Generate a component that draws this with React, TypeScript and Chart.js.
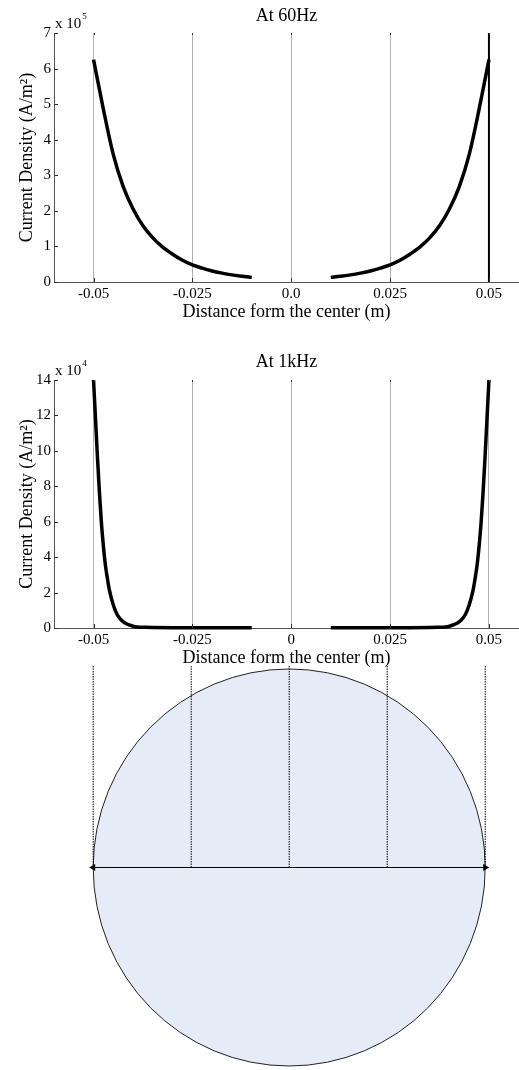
import React, { useEffect, useRef } from 'react';
import { Chart, registerables } from 'chart.js';

Chart.register(...registerables);

const FONT = "'Liberation Serif', 'Times New Roman', serif";

// ---------- axis ticks ----------
const xTickValues = [-0.05, -0.025, 0, 0.025, 0.05];
const xTickLabels60 = ['-0.05', '-0.025', '0.0', '0.025', '0.05'];
const xTickLabels1k = ['-0.05', '-0.025', '0', '0.025', '0.05'];
const yTicks60 = [0, 1, 2, 3, 4, 5, 6, 7];
const yTicks1k = [0, 2, 4, 6, 8, 10, 12, 14];

// ---------- 60 Hz current density (x 10^5 A/m^2) ----------
const x60Left = [-0.05, -0.0475, -0.045, -0.0425, -0.04, -0.0375, -0.035, -0.0325, -0.03, -0.0275, -0.025, -0.0225, -0.02, -0.0175, -0.015, -0.0125, -0.01];
const j60Left = [6.25, 4.85, 3.58, 2.68, 2.05, 1.58, 1.24, 0.98, 0.78, 0.61, 0.48, 0.39, 0.31, 0.25, 0.2, 0.16, 0.13];
const x60Right = [0.01, 0.0125, 0.015, 0.0175, 0.02, 0.0225, 0.025, 0.0275, 0.03, 0.0325, 0.035, 0.0375, 0.04, 0.0425, 0.045, 0.0475, 0.05];
const j60Right = [0.13, 0.16, 0.2, 0.25, 0.31, 0.39, 0.48, 0.61, 0.78, 0.98, 1.24, 1.58, 2.05, 2.68, 3.58, 4.85, 6.25];
const edgeLineX = [0.05, 0.05];
const edgeLineY = [0, 7];

// ---------- 1 kHz current density (x 10^4 A/m^2) ----------
const x1kLeft = [-0.05, -0.0495, -0.049, -0.0485, -0.048, -0.0475, -0.047, -0.0465, -0.046, -0.045, -0.044, -0.043, -0.042, -0.041, -0.04, -0.039, -0.037, -0.035, -0.03, -0.02, -0.01];
const j1kLeft = [14, 11.8, 9.6, 7.6, 5.9, 4.6, 3.55, 2.8, 2.15, 1.3, 0.75, 0.45, 0.28, 0.17, 0.1, 0.06, 0.04, 0.03, 0.02, 0.02, 0.02];
const x1kRight = [0.01, 0.02, 0.03, 0.035, 0.037, 0.039, 0.04, 0.041, 0.042, 0.043, 0.044, 0.045, 0.046, 0.0465, 0.047, 0.0475, 0.048, 0.0485, 0.049, 0.0495, 0.05];
const j1kRight = [0.02, 0.02, 0.02, 0.03, 0.04, 0.06, 0.1, 0.17, 0.28, 0.45, 0.75, 1.3, 2.15, 2.8, 3.55, 4.6, 5.9, 7.6, 9.6, 11.8, 14];

// ---------- conductor cross-section ----------
const conductorRadius = 0.05;
const guideX = [-0.05, -0.025, 0, 0.025, 0.05];
const guideTop = 0.05075;
const diameterX = [-0.05, 0.05];

const X_MIN = -0.06;
const X_MAX = 0.0576;
const W = 519;

const pts = (xs: number[], ys: number[]) => xs.map((x, i) => ({ x, y: ys[i] }));

function innerTicksPlugin(exp: string) {
  return {
    id: 'innerTicks',
    afterDraw(chart: any) {
      const { ctx, chartArea: a, scales } = chart;
      const xs = scales.x, ys = scales.y;
      ctx.save();
      ctx.strokeStyle = '#333';
      ctx.lineWidth = 1;
      ctx.beginPath();
      ys.ticks.forEach((t: any) => {
        const py = Math.round(ys.getPixelForValue(t.value)) + 0.5;
        ctx.moveTo(a.left, py);
        ctx.lineTo(a.left + 4, py);
      });
      xs.ticks.forEach((t: any) => {
        const px = Math.round(xs.getPixelForValue(t.value)) + 0.5;
        ctx.moveTo(px, a.bottom);
        ctx.lineTo(px, a.bottom - 4);
        ctx.moveTo(px, a.top);
        ctx.lineTo(px, a.top + 2);
      });
      ctx.stroke();
      // exponent label
      ctx.fillStyle = '#000';
      ctx.textBaseline = 'alphabetic';
      ctx.textAlign = 'left';
      ctx.font = `15px ${FONT}`;
      const base = 'x 10';
      const bx = a.left + 1;
      const by = a.top - 5;
      ctx.fillText(base, bx, by);
      const w = ctx.measureText(base).width;
      ctx.font = `9px ${FONT}`;
      ctx.fillText(exp, bx + w + 1, by - 9);
      ctx.restore();
    },
  };
}

function densityConfig(opts: {
  title: string;
  titlePad: { top: number; bottom: number };
  xLabels: string[];
  yTicks: number[];
  exp: string;
  datasets: any[];
}) {
  return {
    type: 'line',
    data: { datasets: opts.datasets },
    options: {
      responsive: false,
      animation: false,
      devicePixelRatio: 1,
      events: [],
      layout: { padding: 0 },
      plugins: {
        legend: { display: false },
        tooltip: { enabled: false },
        title: {
          display: true,
          fullSize: false,
          text: opts.title,
          color: '#000',
          font: { family: FONT, size: 18, weight: 'normal' },
          padding: opts.titlePad,
        },
      },
      scales: {
        x: {
          type: 'linear',
          min: X_MIN,
          max: X_MAX,
          afterBuildTicks: (s: any) => {
            s.ticks = xTickValues.map((v) => ({ value: v }));
          },
          afterFit: (s: any) => {
            s.height = 43;
          },
          ticks: {
            color: '#000',
            font: { family: FONT, size: 15 },
            padding: 3,
            maxRotation: 0,
            autoSkip: false,
            callback: (v: number) => {
              const i = xTickValues.findIndex((t) => Math.abs(t - v) < 1e-9);
              return i >= 0 ? opts.xLabels[i] : '';
            },
          },
          grid: { display: true, color: '#b0b0b0', lineWidth: 1, drawTicks: false },
          border: { display: true, color: '#555', width: 1 },
          title: {
            display: true,
            text: 'Distance form the center (m)',
            color: '#000',
            font: { family: FONT, size: 18 },
            padding: { top: 0, bottom: 2.2 },
          },
        },
        y: {
          type: 'linear',
          min: opts.yTicks[0],
          max: opts.yTicks[opts.yTicks.length - 1],
          afterBuildTicks: (s: any) => {
            s.ticks = opts.yTicks.map((v) => ({ value: v }));
          },
          afterFit: (s: any) => {
            s.width = 54;
          },
          ticks: {
            color: '#000',
            font: { family: FONT, size: 15 },
            padding: 3,
            autoSkip: false,
            callback: (v: number) => String(v),
          },
          grid: { display: false, drawTicks: false },
          border: { display: true, color: '#555', width: 1 },
          title: {
            display: true,
            text: 'Current Density (A/m²)',
            color: '#000',
            font: { family: FONT, size: 18 },
            padding: { top: 16.7, bottom: 0 },
          },
        },
      },
    },
    plugins: [innerTicksPlugin(opts.exp)],
  };
}

const curveStyle = {
  borderColor: '#000',
  borderWidth: 3.5,
  pointRadius: 0,
  cubicInterpolationMode: 'monotone',
  borderCapStyle: 'butt',
  borderJoinStyle: 'round',
  fill: false,
  clip: false,
};

function config60() {
  return densityConfig({
    title: 'At 60Hz',
    titlePad: { top: 5.9, bottom: 5.5 },
    xLabels: xTickLabels60,
    yTicks: yTicks60,
    exp: '5',
    datasets: [
      { ...curveStyle, data: pts(x60Left, j60Left) },
      { ...curveStyle, data: pts(x60Right, j60Right) },
      { ...curveStyle, borderWidth: 2, cubicInterpolationMode: 'default', data: pts(edgeLineX, edgeLineY) },
    ],
  });
}

function config1k() {
  return densityConfig({
    title: 'At 1kHz',
    titlePad: { top: 6.2, bottom: 7.2 },
    xLabels: xTickLabels1k,
    yTicks: yTicks1k,
    exp: '4',
    datasets: [
      { ...curveStyle, data: pts(x1kLeft, j1kLeft) },
      { ...curveStyle, data: pts(x1kRight, j1kRight) },
    ],
  });
}

const crossSectionPlugin = {
  id: 'crossSection',
  beforeDatasetsDraw(chart: any) {
    const { ctx, scales } = chart;
    const x = scales.x, y = scales.y;
    const cx = x.getPixelForValue(0);
    const cy = y.getPixelForValue(0);
    const rx = x.getPixelForValue(conductorRadius) - cx;
    const ry = y.getPixelForValue(-conductorRadius) - cy;
    ctx.save();
    ctx.beginPath();
    ctx.ellipse(cx, cy, rx, ry, 0, 0, Math.PI * 2);
    ctx.fillStyle = '#E5ECF7';
    ctx.fill();
    ctx.lineWidth = 1;
    ctx.strokeStyle = '#222';
    ctx.stroke();
    ctx.restore();
  },
};

function configSection() {
  const guides = guideX.map((gx) => ({
    data: [
      { x: gx, y: 0 },
      { x: gx, y: guideTop },
    ],
    borderColor: '#000',
    borderWidth: 1,
    borderDash: [1.5, 1],
    pointRadius: 0,
    fill: false,
    clip: false,
  }));
  return {
    type: 'line',
    data: {
      datasets: [
        ...guides,
        {
          data: diameterX.map((x) => ({ x, y: 0 })),
          borderColor: '#000',
          borderWidth: 1,
          pointStyle: 'triangle',
          pointRadius: 4,
          pointRotation: [-90, 90],
          pointBackgroundColor: '#000',
          pointBorderColor: '#000',
          pointBorderWidth: 0,
          fill: false,
          clip: false,
        },
      ],
    },
    options: {
      responsive: false,
      animation: false,
      devicePixelRatio: 1,
      events: [],
      layout: { padding: { left: 54, right: 0, top: 6, bottom: 1 } },
      plugins: { legend: { display: false }, tooltip: { enabled: false }, title: { display: false } },
      scales: {
        x: { type: 'linear', min: X_MIN, max: X_MAX, display: false },
        y: { type: 'linear', min: -conductorRadius, max: guideTop, display: false },
      },
    },
    plugins: [crossSectionPlugin],
  };
}

function ChartBox({ top, height, build }: { top: number; height: number; build: () => any }) {
  const ref = useRef<HTMLCanvasElement>(null);
  useEffect(() => {
    const chart = new Chart(ref.current as HTMLCanvasElement, build());
    return () => chart.destroy();
  }, []);
  return (
    <canvas
      ref={ref}
      width={W}
      height={height}
      style={{ position: 'absolute', left: 0, top, width: W, height, display: 'block' }}
    />
  );
}

export default function App() {
  return (
    <div style={{ position: 'absolute', left: 0, top: 0, width: W, height: 1070, background: '#fff' }}>
      <ChartBox top={0} height={325} build={config60} />
      <ChartBox top={345} height={326} build={config1k} />
      <ChartBox top={660} height={410} build={configSection} />
    </div>
  );
}
